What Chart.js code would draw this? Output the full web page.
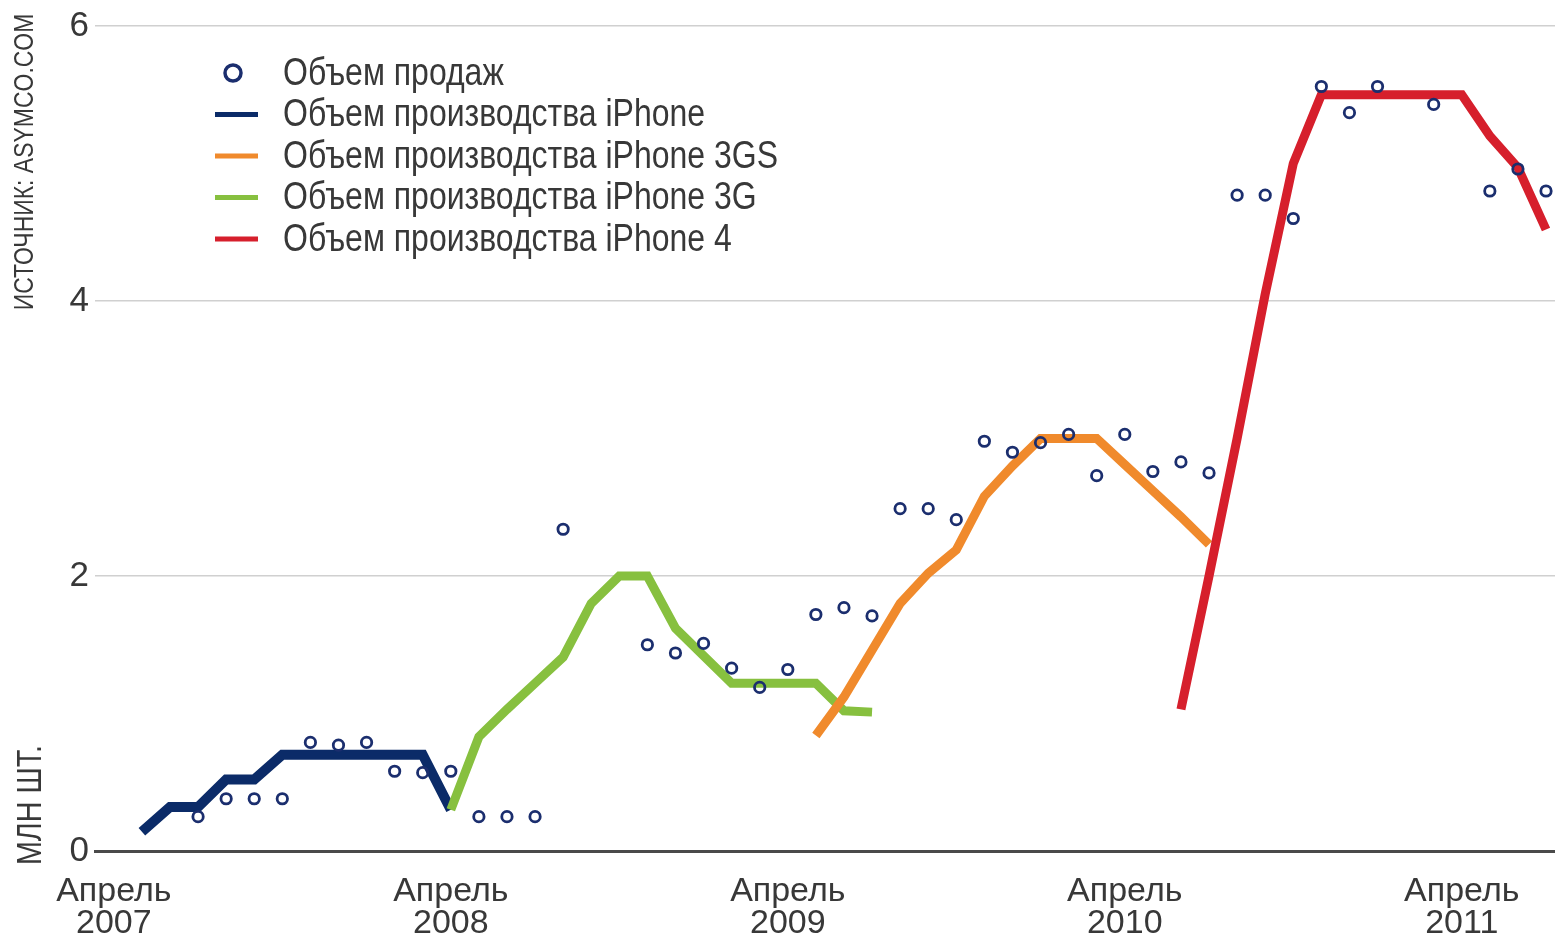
<!DOCTYPE html>
<html>
<head>
<meta charset="utf-8">
<script src="https://cdn.jsdelivr.net/npm/chart.js@4.4.1/dist/chart.umd.min.js"></script>
<style>
html,body{margin:0;padding:0;background:#ffffff;overflow:hidden}
#wrap{width:1555px;height:936px;position:relative}
</style>
</head>
<body>
<div id="wrap"><canvas id="c" width="1555" height="936"></canvas></div>
<script>
// Months from April 2007 (index 0) to July 2011 (index 51)
const months = [
  '04.2007','05.2007','06.2007','07.2007','08.2007','09.2007','10.2007','11.2007','12.2007',
  '01.2008','02.2008','03.2008','04.2008','05.2008','06.2008','07.2008','08.2008','09.2008','10.2008','11.2008','12.2008',
  '01.2009','02.2009','03.2009','04.2009','05.2009','06.2009','07.2009','08.2009','09.2009','10.2009','11.2009','12.2009',
  '01.2010','02.2010','03.2010','04.2010','05.2010','06.2010','07.2010','08.2010','09.2010','10.2010','11.2010','12.2010',
  '01.2011','02.2011','03.2011','04.2011','05.2011','06.2011','07.2011'
];

// Sales volume (million units)
const sales = [
  null,null,null,0.25,0.38,0.38,0.38,0.79,0.77,0.79,0.58,0.57,0.58,0.25,0.25,0.25,2.34,null,null,
  1.50,1.44,1.51,1.33,1.19,1.32,1.72,1.77,1.71,2.49,2.49,2.41,2.98,2.90,2.97,3.03,2.73,3.03,2.76,2.83,2.75,
  4.77,4.77,4.60,5.56,5.37,5.56,null,5.43,null,4.80,4.96,4.80
];

// Production volume: iPhone
const prodIphone = [
  null,0.14,0.32,0.32,0.52,0.52,0.70,0.70,0.70,0.70,0.70,0.70,0.30,null,null,null,null,null,null,
  null,null,null,null,null,null,null,null,null,null,null,null,null,null,null,null,null,null,null,null,null,
  null,null,null,null,null,null,null,null,null,null,null,null
];

// Production volume: iPhone 3GS
const prod3GS = [
  null,null,null,null,null,null,null,null,null,null,null,null,null,null,null,null,null,null,null,
  null,null,null,null,null,null,0.84,1.12,1.46,1.80,2.02,2.19,2.58,2.80,3.00,3.00,3.00,2.81,2.62,2.43,2.23,
  null,null,null,null,null,null,null,null,null,null,null,null
];

// Production volume: iPhone 3G
const prod3G = [
  null,null,null,null,null,null,null,null,null,null,null,null,0.30,0.83,1.03,1.22,1.41,1.80,2.00,
  2.00,1.62,1.42,1.22,1.22,1.22,1.22,1.02,1.01,null,null,null,null,null,null,null,null,null,null,null,null,
  null,null,null,null,null,null,null,null,null,null,null,null
];

// Production volume: iPhone 4
const prod4 = [
  null,null,null,null,null,null,null,null,null,null,null,null,null,null,null,null,null,null,null,
  null,null,null,null,null,null,null,null,null,null,null,null,null,null,null,null,null,null,null,1.03,2.00,
  3.00,4.05,5.00,5.50,5.50,5.50,5.50,5.50,5.50,5.20,4.97,4.52
];

const seriesLabels = [
  'Объем продаж',
  'Объем производства iPhone',
  'Объем производства iPhone 3GS',
  'Объем производства iPhone 3G',
  'Объем производства iPhone 4'
];
const seriesColors = ['#1b2e6e', '#0b2b68', '#f08a2c', '#87c03f', '#d61f2c'];

const tickPositions = [0, 12, 24, 36, 48];
const tickLabels = [['Апрель','2007'], ['Апрель','2008'], ['Апрель','2009'], ['Апрель','2010'], ['Апрель','2011']];
const yTicks = [0, 2, 4, 6];

const axisTitleTop = 'ИСТОЧНИК: ASYMCO.COM';
const axisTitleBottom = 'МЛН ШТ.';

const FONT = "'Liberation Sans', Arial, sans-serif";
const TEXT = '#383838';
const NARROW = 0.82;

function pts(arr) {
  const out = [];
  arr.forEach((v, i) => { if (v !== null) out.push({x: i, y: v}); });
  return out;
}

function lineDs(label, arr, color, order, width) {
  return {
    label, data: pts(arr), borderColor: color, backgroundColor: color,
    borderWidth: width, pointRadius: 0, pointHoverRadius: 0, tension: 0,
    borderJoinStyle: 'miter', borderCapStyle: 'butt', fill: false, order
  };
}

function narrowText(ctx, text, x, y, size, rot, align) {
  ctx.save();
  ctx.translate(x, y);
  if (rot) ctx.rotate(rot);
  ctx.scale(NARROW, 1);
  ctx.font = size + "px " + FONT;
  ctx.textAlign = align;
  ctx.textBaseline = 'middle';
  ctx.fillText(text, 0, 0);
  ctx.restore();
}

const overlay = {
  id: 'overlay',
  afterDraw(chart) {
    const ctx = chart.ctx;
    ctx.save();
    ctx.fillStyle = TEXT;
    // rotated axis titles
    narrowText(ctx, axisTitleTop, 25, 162, 28, -Math.PI / 2, 'center');
    narrowText(ctx, axisTitleBottom, 31, 805, 35, -Math.PI / 2, 'center');

    // legend
    const ds = chart.data.datasets;
    const y0 = 73, step = 41.5;
    ds.forEach((d, i) => {
      const y = y0 + i * step;
      if (i === 0) {
        ctx.beginPath();
        ctx.arc(233, y, 8, 0, Math.PI * 2);
        ctx.lineWidth = 3.5;
        ctx.strokeStyle = d.pointBorderColor;
        ctx.stroke();
      } else {
        ctx.beginPath();
        ctx.moveTo(215, y);
        ctx.lineTo(258, y);
        ctx.lineWidth = 5;
        ctx.lineCap = 'butt';
        ctx.strokeStyle = d.borderColor;
        ctx.stroke();
      }
      ctx.fillStyle = TEXT;
      narrowText(ctx, d.label, 283, y + 1, 39, 0, 'left');
    });
    ctx.restore();
  }
};

new Chart(document.getElementById('c'), {
  type: 'line',
  data: {
    datasets: [
      {
        label: seriesLabels[0], data: pts(sales), showLine: false,
        pointRadius: 5.2, pointHoverRadius: 5.2, pointBorderWidth: 2.8,
        pointBorderColor: seriesColors[0], pointBackgroundColor: 'rgba(255,255,255,0)',
        borderColor: seriesColors[0], backgroundColor: 'rgba(255,255,255,0)', order: 0
      },
      lineDs(seriesLabels[1], prodIphone, seriesColors[1], 4, 10),
      lineDs(seriesLabels[2], prod3GS, seriesColors[2], 2, 9),
      lineDs(seriesLabels[3], prod3G, seriesColors[3], 3, 9),
      lineDs(seriesLabels[4], prod4, seriesColors[4], 1, 9)
    ]
  },
  options: {
    responsive: false,
    devicePixelRatio: 1,
    animation: false,
    layout: { autoPadding: false, padding: { top: 26, left: 0, right: 0, bottom: 0 } },
    plugins: { legend: { display: false }, tooltip: { enabled: false }, title: { display: false } },
    scales: {
      x: {
        type: 'linear', min: -0.67, max: 51.32,
        grid: { display: false },
        border: { display: true, color: '#4a4a4a', width: 3 },
        afterBuildTicks: (s) => { s.ticks = tickPositions.map(v => ({ value: v })); },
        afterFit: (s) => { s.height = 85; s.paddingLeft = 0; s.paddingRight = 0; },
        ticks: {
          autoSkip: false, maxRotation: 0, minRotation: 0, padding: 17, color: TEXT,
          font: { family: FONT, size: 34, lineHeight: 0.94 },
          callback: (v) => { const k = tickPositions.indexOf(v); return k >= 0 ? tickLabels[k] : ''; }
        }
      },
      y: {
        min: 0, max: 6,
        afterBuildTicks: (s) => { s.ticks = yTicks.map(v => ({ value: v })); },
        afterFit: (s) => { s.width = 95; s.paddingTop = 0; s.paddingBottom = 0; },
        grid: {
          drawTicks: false,
          color: (c) => c.tick && c.tick.value === 0 ? '#4a4a4a' : '#d0d0d0',
          lineWidth: (c) => c.tick && c.tick.value === 0 ? 3 : 1.5
        },
        border: { display: false },
        ticks: { padding: 6, color: TEXT, font: { family: FONT, size: 35 } }
      }
    }
  },
  plugins: [overlay]
});
</script>
</body>
</html>
